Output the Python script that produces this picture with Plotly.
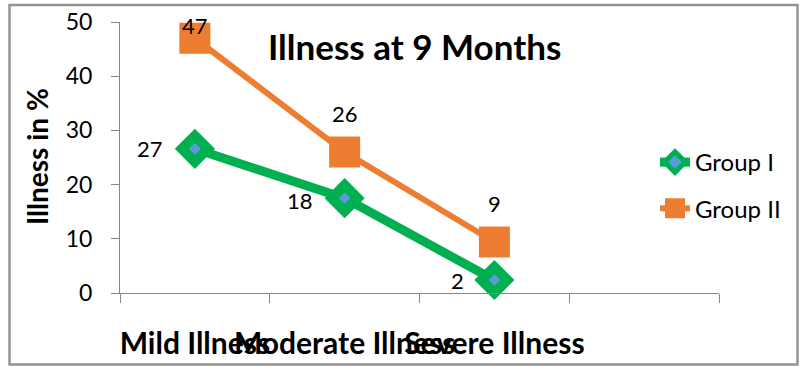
import plotly.graph_objects as go

categories = ["Mild Illness", "Moderate Illness", "Severe Illness"]
group1 = [26.6, 17.5, 2.4]
group2 = [47.0, 26.0, 9.4]
group1_labels = ["27", "18", "2"]
group2_labels = ["47", "26", "9"]
y_ticks = [0, 10, 20, 30, 40, 50]

W, H = 800, 367
L, R, T, B = 120, 81, 22, 74
pw, ph = W - L - R, H - T - B

def px(xp):
    return (xp - L) / pw

def py(yp):
    return (H - B - yp) / ph

FONT = "Lato"
GREEN = "#00B050"
ORANGE = "#ED7D31"
BLUE = "#5B9BD5"
AX = "#868686"

xs = list(range(len(categories)))

fig = go.Figure()
fig.add_trace(go.Scatter(
    x=xs, y=group1, mode="lines+markers", name="Group I",
    legendgroup="g1",
    line=dict(color=GREEN, width=9),
    marker=dict(symbol="diamond", size=20, color=BLUE,
                line=dict(color=GREEN, width=10)),
    cliponaxis=False,
))
fig.add_trace(go.Scatter(
    x=xs, y=group2, mode="lines+markers", name="Group II",
    legendgroup="g2",
    line=dict(color=ORANGE, width=6),
    marker=dict(symbol="square", size=27, color=ORANGE,
                line=dict(color=ORANGE, width=4)),
    cliponaxis=False,
))

annots = []
# Group I labels: to the left
g1_shift = [(-45, 0), (-45, -2), (-37, -1)]
for i, (xv, yv, t) in enumerate(zip(xs, group1, group1_labels)):
    dx, dy = g1_shift[i]
    annots.append(dict(x=xv, y=yv, xref="x", yref="y", text=t, showarrow=False,
                       xshift=dx, yshift=dy,
                       font=dict(family=FONT, size=22, color="black")))
# Group II labels: above
g2_shift = [13, 39, 39]
for i, (xv, yv, t) in enumerate(zip(xs, group2, group2_labels)):
    annots.append(dict(x=xv, y=yv, xref="x", yref="y", text=t, showarrow=False,
                       yshift=g2_shift[i],
                       font=dict(family=FONT, size=22, color="black")))

# Title
annots.append(dict(x=px(414), y=py(46), xref="paper", yref="paper",
                   text="<b>Illness at 9 Months</b>", showarrow=False,
                   xanchor="center", yanchor="middle",
                   font=dict(family=FONT, size=35, color="black")))
# Y axis title
annots.append(dict(x=px(37), y=py(157), xref="paper", yref="paper",
                   text="<b>Illness in %</b>", showarrow=False, textangle=-90,
                   xanchor="center", yanchor="middle",
                   font=dict(family=FONT, size=28, color="black")))

fig.update_layout(
    width=W, height=H,
    margin=dict(l=L, r=R, t=T, b=B, autoexpand=False),
    paper_bgcolor="white", plot_bgcolor="white",
    showlegend=True,
    legend=dict(x=px(655), y=py(140), xanchor="left", yanchor="top",
                font=dict(family=FONT, size=24, color="black"),
                bgcolor="rgba(0,0,0,0)", tracegroupgap=12,
                traceorder="grouped"),
    annotations=annots,
    shapes=[dict(type="rect", xref="paper", yref="paper",
                 x0=px(9.5), x1=px(797.5), y0=py(364.5), y1=py(5),
                 line=dict(color="#939393", width=2.5), fillcolor="rgba(0,0,0,0)",
                 layer="below")],
    xaxis=dict(range=[-0.5, 3.5], tickmode="array", tickvals=xs, ticktext=categories,
               ticks="", tickangle=0, showgrid=False, zeroline=False,
               showline=True, linecolor=AX, linewidth=1, automargin=False,
               ticklabelstandoff=24,
               tickfont=dict(family=FONT, size=30, color="black", weight="bold"),
               minor=dict(tickmode="linear", tick0=-0.5, dtick=1, ticks="outside",
                          ticklen=9, tickcolor=AX, tickwidth=1, showgrid=False),
               fixedrange=True),
    yaxis=dict(range=[0, 50], tickmode="array", tickvals=y_ticks,
               ticks="outside", ticklen=8, tickcolor=AX, tickwidth=1,
               showgrid=False, zeroline=False, showline=True, linecolor=AX, linewidth=1,
               automargin=False, ticklabelstandoff=14,
               tickfont=dict(family=FONT, size=23, color="black"),
               fixedrange=True),
)

fig.write_html("out.html")
